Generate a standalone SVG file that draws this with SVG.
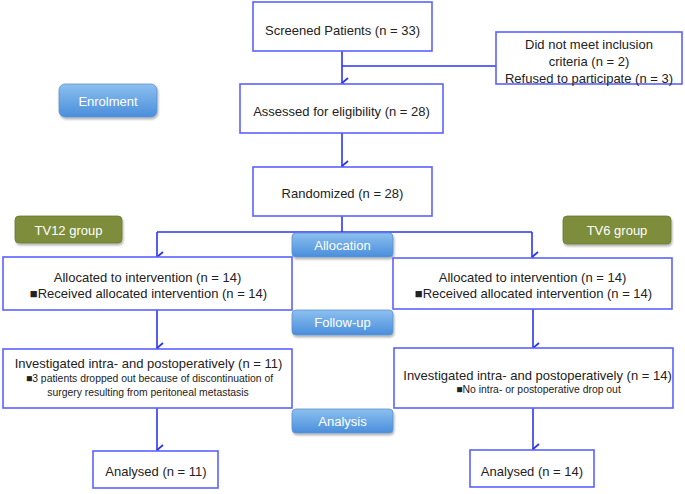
<svg xmlns="http://www.w3.org/2000/svg" width="685" height="494" viewBox="0 0 685 494">
<defs>
<linearGradient id="blueBtn" x1="0" y1="0" x2="0" y2="1">
<stop offset="0" stop-color="#8cc0ef"/>
<stop offset="1" stop-color="#4a8edb"/>
</linearGradient>
<filter id="sh" x="-10%" y="-20%" width="130%" height="160%">
<feDropShadow dx="1" dy="2" stdDeviation="1.2" flood-color="#000" flood-opacity="0.3"/>
</filter>
<marker id="arr" viewBox="0 0 12 10" refX="6" refY="9" markerWidth="12" markerHeight="10" markerUnits="userSpaceOnUse" orient="auto-start-reverse">
<path d="M1,3 L6,9 L11,3" fill="none" stroke="#2b35f0" stroke-width="1.8"/>
</marker>
</defs>
<style>
.box{fill:#fff;stroke:#5a62ff;stroke-width:1.6}
.t{font-family:"Liberation Sans",Arial,sans-serif;font-size:13px;fill:#222;text-anchor:middle}
.s{font-family:"Liberation Sans",Arial,sans-serif;font-size:10.4px;fill:#222;text-anchor:middle}
.btn{fill:url(#blueBtn);stroke:#5d93cf;stroke-width:0.8;filter:url(#sh)}
.grp{fill:#7d8d3b;stroke:#6c7a32;stroke-width:0.8;filter:url(#sh)}
.bt{font-family:"Liberation Sans",Arial,sans-serif;font-size:13px;fill:#fff;text-anchor:middle}
.c{fill:none;stroke:#2b35f0;stroke-width:1.6}
</style>
<rect width="685" height="494" fill="#fff"/>
<g id="connectors">
<path class="c" d="M342,51 V83" marker-end="url(#arr)"/>
<path class="c" d="M342,66 H496"/>
<path class="c" d="M342,133 V166" marker-end="url(#arr)"/>
<path class="c" d="M342,216 V232" />
<path class="c" d="M157,232 H532"/>
<path class="c" d="M157,232 V257" marker-end="url(#arr)"/>
<path class="c" d="M532,232 V257" marker-end="url(#arr)"/>
<path class="c" d="M157,310 V348" marker-end="url(#arr)"/>
<path class="c" d="M533,309 V348" marker-end="url(#arr)"/>
<path class="c" d="M157,408 V450" marker-end="url(#arr)"/>
<path class="c" d="M533,408 V449" marker-end="url(#arr)"/>
</g>
<g id="enrolment"><rect class="btn" x="59" y="84" width="98" height="33" rx="6"/><text class="bt" x="108" y="105.5">Enrolment</text></g>
<g id="tv12"><rect class="grp" x="15" y="216" width="107" height="27" rx="4"/><text class="bt" x="68.5" y="234.5">TV12 group</text></g>
<g id="tv6"><rect class="grp" x="563" y="216" width="108" height="28" rx="4"/><text class="bt" x="617" y="235">TV6 group</text></g>
<g id="allocation"><rect class="btn" x="292" y="233" width="101" height="24" rx="4"/><text class="bt" x="342.5" y="250">Allocation</text></g>
<g id="followup"><rect class="btn" x="292" y="310" width="101" height="25" rx="4"/><text class="bt" x="342.5" y="327">Follow-up</text></g>
<g id="analysis"><rect class="btn" x="292" y="409" width="101" height="24" rx="4"/><text class="bt" x="342.5" y="426">Analysis</text></g>
<g id="screened"><rect class="box" x="253" y="2" width="179" height="49"/><text class="t" x="342.5" y="35">Screened Patients (n = 33)</text></g>
<g id="excluded"><rect class="box" x="496" y="32" width="186" height="52"/>
<text class="t" x="589" y="49">Did not meet inclusion</text>
<text class="t" x="589" y="66">criteria (n = 2)</text>
<text class="t" x="589" y="82.5">Refused to participate (n = 3)</text></g>
<g id="assessed"><rect class="box" x="240" y="84" width="203" height="49"/><text class="t" x="341.5" y="115.5">Assessed for eligibility (n = 28)</text></g>
<g id="randomized"><rect class="box" x="253" y="167" width="179" height="49"/><text class="t" x="342.5" y="197.5">Randomized (n = 28)</text></g>
<g id="alloc-left"><rect class="box" x="3" y="257" width="289" height="53"/>
<text class="t" x="147.5" y="281.5">Allocated to intervention (n = 14)</text>
<text class="t" x="148.5" y="297.5">■Received allocated intervention (n = 14)</text></g>
<g id="alloc-right"><rect class="box" x="393" y="258" width="279" height="51"/>
<text class="t" x="532.5" y="281.5">Allocated to intervention (n = 14)</text>
<text class="t" x="533.5" y="297.5">■Received allocated intervention (n = 14)</text></g>
<g id="inv-left"><rect class="box" x="3" y="349" width="289" height="59"/>
<text class="t" x="148.5" y="367.5">Investigated intra- and postoperatively (n = 11)</text>
<text class="s" x="149.5" y="382">■3 patients dropped out because of discontinuation of</text>
<text class="s" x="148" y="396">surgery resulting from peritoneal metastasis</text></g>
<g id="inv-right"><rect class="box" x="394" y="348" width="279" height="60"/>
<text class="t" x="537.5" y="379.5">Investigated intra- and postoperatively (n = 14)</text>
<text class="s" x="538.5" y="393">■No intra- or postoperative drop out</text></g>
<g id="anal-left"><rect class="box" x="93" y="451" width="125" height="37"/><text class="t" x="156" y="475.5">Analysed (n = 11)</text></g>
<g id="anal-right"><rect class="box" x="470" y="450" width="124" height="37"/><text class="t" x="532" y="475.5">Analysed (n = 14)</text></g>
</svg>
